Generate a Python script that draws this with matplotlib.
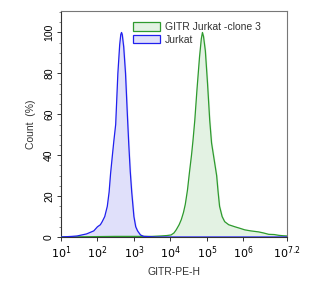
import numpy as np
import matplotlib
matplotlib.use("Agg")
import matplotlib.pyplot as plt
from matplotlib.ticker import FixedLocator, MultipleLocator, LogLocator, NullFormatter
from matplotlib.patches import Patch

plt.rcParams['font.family'] = ['Liberation Sans', 'DejaVu Sans']

# log10 of GITR-PE-H, count (%)
jurkat_log = [1.0, 1.3, 1.44, 1.7, 1.9, 2.0, 2.08, 2.13, 2.2, 2.27, 2.32, 2.36, 2.41, 2.45, 2.5, 2.56, 2.61, 2.64, 2.66, 2.68, 2.72, 2.77, 2.82, 2.86, 2.9, 2.94, 3.0, 3.05, 3.1, 3.18, 3.27, 3.6, 7.2]
jurkat_cnt = [0.0, 0.3, 0.5, 1.5, 3.0, 5.0, 6.0, 7.5, 10.0, 15.0, 22.0, 31.0, 40.0, 47.0, 55.0, 80.0, 94.0, 99.0, 100.0, 99.0, 93.0, 80.0, 60.0, 45.0, 32.0, 22.0, 10.0, 5.0, 3.0, 1.0, 0.3, 0.0, 0.0]

clone_log = [1.0, 2.5, 3.5, 3.74, 3.9, 4.02, 4.1, 4.16, 4.24, 4.3, 4.36, 4.41, 4.47, 4.52, 4.58, 4.62, 4.67, 4.73, 4.8, 4.85, 4.88, 4.91, 4.96, 5.02, 5.08, 5.13, 5.2, 5.27, 5.31, 5.35, 5.42, 5.49, 5.6, 5.77, 5.9, 6.04, 6.2, 6.42, 6.55, 6.7, 6.85, 6.98, 7.1, 7.2]
clone_cnt = [0.0, 0.3, 0.3, 0.5, 0.7, 1.0, 2.0, 3.5, 6.0, 8.5, 12.0, 16.0, 23.0, 31.0, 40.0, 47.0, 57.0, 72.0, 88.0, 97.0, 100.0, 98.0, 91.0, 75.0, 57.0, 46.0, 38.0, 30.0, 22.0, 15.0, 10.0, 7.5, 6.0, 5.0, 4.3, 3.5, 3.0, 2.5, 2.0, 1.3, 1.2, 0.8, 0.6, 0.5]

xtick_exp = [1, 2, 3, 4, 5, 6, 7.2]
xtick_labels = [r'$10^{1}$', r'$10^{2}$', r'$10^{3}$', r'$10^{4}$', r'$10^{5}$', r'$10^{6}$', r'$10^{7.2}$']
yticks = [0, 20, 40, 60, 80, 100]

fig = plt.figure(figsize=(3.12, 2.81), dpi=100)
ax = fig.add_axes([61/312, 1 - 237/281, (287 - 61)/312, (237 - 11)/281])

jx = 10 ** np.array(jurkat_log)
cx = 10 ** np.array(clone_log)

ax.fill_between(cx, clone_cnt, color='#e3f2e3', alpha=1.0, zorder=1)
ax.plot(cx, clone_cnt, color='#2e9a2e', lw=0.9, zorder=3)
ax.fill_between(jx, jurkat_cnt, color='#e0e0fa', alpha=1.0, zorder=1)
ax.plot(jx, jurkat_cnt, color='#2020ee', lw=0.9, zorder=3)

ax.set_xscale('log')
ax.set_xlim(10 ** 1, 10 ** 7.2)
ax.set_ylim(0, 110.5)

ax.xaxis.set_major_locator(FixedLocator([10 ** e for e in xtick_exp]))
ax.set_xticklabels(xtick_labels, fontsize=8)
ax.xaxis.set_minor_locator(LogLocator(base=10, subs=np.arange(2, 10)))
ax.xaxis.set_minor_formatter(NullFormatter())

ax.set_yticks(yticks)
ax.set_yticklabels([str(v) for v in yticks], fontsize=7.5, rotation=90, va='center')
ax.yaxis.set_minor_locator(MultipleLocator(5))

ax.tick_params(axis='both', which='major', direction='out', length=3, width=0.7, color='#333333', pad=2)
ax.tick_params(axis='both', which='minor', direction='out', length=1.5, width=0.5, color='#555555')

for side in ['top', 'right']:
    ax.spines[side].set_color('#777777')
    ax.spines[side].set_linewidth(0.8)
for side in ['left', 'bottom']:
    ax.spines[side].set_color('#333333')
    ax.spines[side].set_linewidth(0.8)

ax.set_xlabel('GITR-PE-H', fontsize=7.5, color='#333333', labelpad=5)
ax.set_ylabel('Count  (%)', fontsize=7.5, color='#333333', labelpad=6)

handles = [Patch(facecolor='#e3f2e3', edgecolor='#2e9a2e', linewidth=0.9, label='GITR Jurkat -clone 3'),
           Patch(facecolor='#e0e0fa', edgecolor='#2020ee', linewidth=0.9, label='Jurkat')]
leg = ax.legend(handles=handles, loc='upper left', bbox_to_anchor=(0.3, 0.97), frameon=False,
                fontsize=7.5, handlelength=2.6, handleheight=0.9, handletextpad=0.5,
                labelspacing=0.25, borderaxespad=0)
for t in leg.get_texts():
    t.set_color('#333333')

fig.savefig('out.png', dpi=100)
